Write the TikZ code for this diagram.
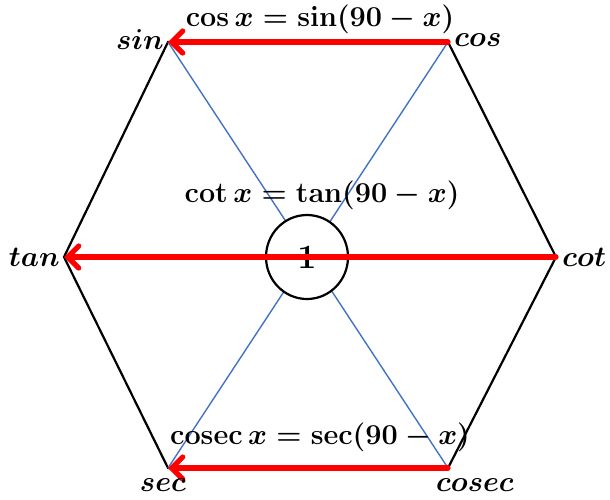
\documentclass[tikz,border=0pt]{standalone}
\usetikzlibrary{arrows.meta,shapes.geometric}

\definecolor{hexred}{RGB}{255,0,0}
\definecolor{hexblue}{RGB}{68,114,196}

\tikzset{
    edge/.style={black, line width=1.1pt},
    diag/.style={hexblue, line width=0.7pt},
    relarrow/.style={hexred, line width=2.6pt, line cap=round,
        -{Straight Barb[length=5.5pt, width=11pt, line cap=round]}},
    vlabel/.style={inner sep=1pt, font=\fontsize{15}{18}\selectfont\boldmath},
    rel/.style={inner sep=1pt, font=\fontsize{15}{18}\selectfont\bfseries\boldmath},
}

\begin{document}
\begin{tikzpicture}[x=0.5pt, y=-0.5pt]
\useasboundingbox (0,0) rectangle (610,499);

% corners of the hexagon
\coordinate (sin) at (168,42);
\coordinate (cos) at (448,42);
\coordinate (cot) at (556,257);
\coordinate (cosec) at (448,468);
\coordinate (sec) at (168,468);
\coordinate (tan) at (64,257);

\draw[edge] (sin) -- (cos) -- (cot) -- (cosec) -- (sec) -- (tan) -- cycle;
\draw[diag] (sin) -- (cosec);
\draw[diag] (cos) -- (sec);

\node[ellipse, draw, line width=1.1pt, fill=white, minimum width=41pt,
    minimum height=42pt, inner sep=0pt, rel, font=\fontsize{17}{20}\selectfont\bfseries]
    (one) at (307,257) {1};

% the three relations
\draw[relarrow] (cos) -- (sin);
\draw[relarrow] (cot) -- (tan);
\draw[relarrow] (cosec) -- (sec);

\node[vlabel, anchor=east] (sinlab) at (166,40) {$sin$};
\node[vlabel, anchor=west] (coslab) at (452,40) {$cos$};
\node[vlabel, anchor=east] (tanlab) at (62,257) {$tan$};
\node[vlabel, anchor=west] (cotlab) at (560,257) {$cot$};
\node[vlabel] (seclab) at (163,485) {$sec$};
\node[vlabel] (coseclab) at (475,485) {$cosec$};

\node[rel] (toprel) at (320,19) {$\mathbf{cos}\,x=\mathbf{sin}(90-x)$};
\node[rel] (midrel) at (322,195) {$\mathbf{cot}\,x=\mathbf{tan}(90-x)$};
\node[rel] (botrel) at (320,437) {$\mathbf{cosec}\,x=\mathbf{sec}(90-x)$};
\end{tikzpicture}
\end{document}
